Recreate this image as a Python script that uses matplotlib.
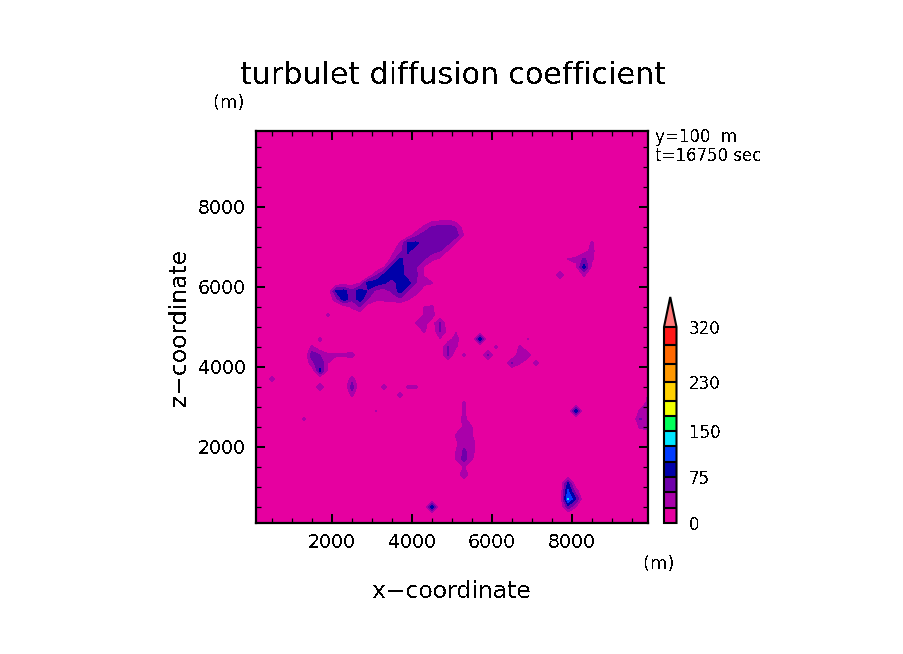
import numpy as np
import matplotlib
matplotlib.use('Agg')
import matplotlib.pyplot as plt
from matplotlib.ticker import MultipleLocator

# no antialias, the original is a jagged plotter image
plt.rcParams['text.antialiased'] = False
plt.rcParams['font.family'] = ['DejaVu Sans']

W, H = 904, 654

# model grid, 200 m spacing
grid_x = np.arange(100, 9901, 200)
grid_z = np.arange(100, 9901, 200)

levels = [0, 25, 50, 75, 100, 125, 150, 175, 200, 230, 260, 290, 320]
cbar_ticks = [0, 75, 150, 230, 320]
colors = ['#E600A0', '#AA00AA', '#6E00AA', '#0000AA', '#003CFF', '#00E6FF',
          '#00FF5A', '#F0FF00', '#FFD000', '#FF9800', '#FF6800', '#FF1818']
over_color = '#FF7878'

# coefficient: {z index: {x index: value}}, all else is 0
coef_rows = {
    38: {22: 10, 23: 15, 24: 20, 25: 8},
    37: {21: 30, 22: 52, 23: 58, 24: 60, 25: 48, 26: 10},
    36: {19: 5, 20: 42, 21: 62, 22: 68, 23: 70, 24: 70, 25: 60, 26: 22},
    35: {18: 28, 19: 80, 20: 80, 21: 65, 22: 70, 23: 70, 24: 55, 25: 25, 42: 30},
    34: {17: 18, 18: 40, 19: 78, 20: 65, 21: 62, 22: 58, 23: 50, 24: 22, 41: 14, 42: 34},
    33: {16: 5, 17: 30, 18: 78, 19: 68, 20: 60, 21: 52, 22: 32, 23: 20,
         39: 26, 40: 32, 41: 55, 42: 30},
    32: {16: 22, 17: 80, 18: 85, 19: 60, 20: 52, 21: 22, 40: 18, 41: 85, 42: 15},
    31: {15: 45, 16: 80, 17: 85, 18: 85, 19: 60, 20: 55, 21: 24, 38: 45, 41: 30},
    30: {10: 5, 11: 8, 12: 12, 13: 25, 14: 85, 15: 88, 16: 78, 17: 62, 18: 88,
         19: 85, 20: 50, 21: 30, 22: 28},
    29: {9: 5, 10: 78, 11: 85, 12: 55, 13: 90, 14: 72, 15: 42, 16: 35, 17: 55,
         18: 85, 19: 50, 20: 38, 21: 12},
    28: {9: 5, 10: 40, 11: 90, 12: 55, 13: 88, 14: 50, 15: 30, 16: 30, 17: 35,
         18: 45, 19: 28, 20: 8},
    27: {11: 10, 12: 30, 13: 50, 14: 10, 15: 8, 16: 10, 21: 25, 22: 30},
    26: {9: 33, 13: 5, 21: 28, 22: 36},
    25: {20: 26, 21: 35, 22: 10, 23: 52},
    24: {21: 30, 22: 5, 23: 52, 24: 15, 25: 22},
    23: {8: 33, 23: 24, 24: 10, 25: 38, 28: 100, 34: 26},
    22: {7: 30, 8: 5, 24: 52, 25: 28, 30: 33, 33: 30},
    21: {7: 65, 8: 50, 9: 30, 10: 30, 11: 30, 12: 40, 24: 52, 26: 33, 29: 57,
         33: 45, 34: 40},
    20: {7: 40, 8: 70, 9: 25, 32: 52, 33: 28, 35: 36},
    19: {7: 5, 8: 78, 9: 18},
    18: {2: 38, 12: 38},
    17: {8: 44, 12: 65, 16: 36, 19: 33, 20: 33},
    16: {12: 30, 18: 36, 49: 26},
    15: {26: 30, 49: 35},
    14: {15: 27, 26: 30, 40: 90, 48: 30, 49: 40},
    13: {6: 33, 26: 35, 48: 51, 49: 45},
    12: {26: 32, 27: 25, 48: 30, 49: 40},
    11: {25: 28, 26: 33, 27: 26},
    10: {25: 20, 26: 40, 27: 40},
    9: {25: 25, 26: 55, 27: 35},
    8: {25: 27, 26: 60, 27: 28},
    7: {26: 28},
    6: {26: 50},
    5: {39: 80},
    4: {39: 105, 40: 35},
    3: {39: 128, 40: 75},
    2: {22: 95, 39: 65, 40: 25},
}

coef = np.zeros((len(grid_z), len(grid_x)))
for j, row in coef_rows.items():
    for i, v in row.items():
        coef[j, i] = v


def fx(px):
    return px / W


def fy(py):
    return 1 - py / H


fig = plt.figure(figsize=(W / 100, H / 100), dpi=100)
ax = fig.add_axes([fx(256), fy(523), 392 / W, 392 / H])

cf = ax.contourf(grid_x, grid_z, coef, levels=levels, colors=colors + [over_color],
                 extend='max', antialiased=False)

ax.set_xlim(100, 9900)
ax.set_ylim(100, 9900)
ax.xaxis.set_major_locator(MultipleLocator(2000))
ax.yaxis.set_major_locator(MultipleLocator(2000))
ax.xaxis.set_minor_locator(MultipleLocator(500))
ax.yaxis.set_minor_locator(MultipleLocator(500))
ax.tick_params(which='major', direction='in', length=6.5, width=1.44, top=True, right=True,
               labelsize=13.6, pad=7.5, color='k')
ax.tick_params(which='minor', direction='in', length=3.4, width=0.9, top=True, right=True)
for sp in ax.spines.values():
    sp.set_linewidth(1.6)

# colorbar, proportional bands with black dividers; the axes holds the arrow too
cax = fig.add_axes([fx(664), fy(523), 12.5 / W, 226 / H])
cb = fig.colorbar(cf, cax=cax, ticks=cbar_ticks, spacing='proportional',
                  extendfrac=30 / 196, drawedges=True)
cb.outline.set_linewidth(1.5)
cb.dividers.set_linewidth(1.5)
cb.dividers.set_color('k')
cb.ax.minorticks_off()
cb.ax.tick_params(length=0, labelsize=12, pad=9)

fig.text(fx(453), fy(76), 'turbulet diffusion coefficient', fontsize=21.6, ha='center', va='center')
fig.text(fx(229), fy(103), '(m)', fontsize=13, ha='center', va='center')
fig.text(fx(659), fy(564), '(m)', fontsize=13, ha='center', va='center')
fig.text(fx(452), fy(592), 'x\u2212coordinate', fontsize=16.9, ha='center', va='center')
fig.text(fx(180), fy(327), 'z\u2212coordinate', fontsize=16.9, ha='center', va='center', rotation=90)
fig.text(fx(655), fy(137), 'y=100  m', fontsize=12, ha='left', va='center')
fig.text(fx(655), fy(156), 't=16750 sec', fontsize=12, ha='left', va='center')

fig.savefig('out.png', dpi=100)
